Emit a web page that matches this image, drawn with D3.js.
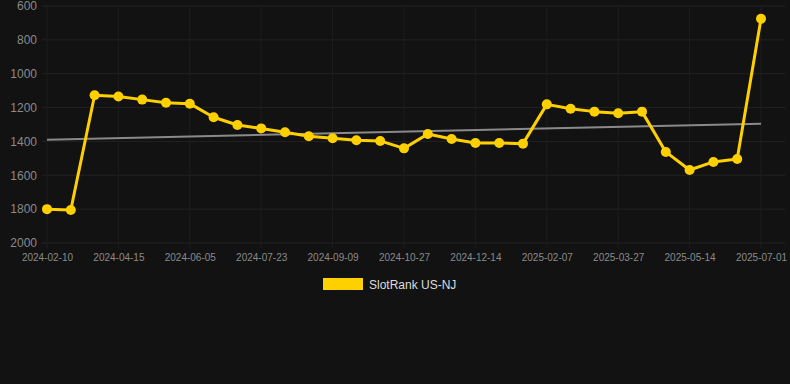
<!DOCTYPE html>
<html><head><meta charset="utf-8">
<script src="https://cdn.jsdelivr.net/npm/d3@7"></script>
<style>
html,body{margin:0;padding:0;background:#121212;}
svg{display:block;font-family:"Liberation Sans",Arial,Helvetica,sans-serif;}
</style></head>
<body>
<svg id="chart" width="790" height="384"></svg>
<script>
const dates = ["2024-02-10","2024-03-02","2024-03-23","2024-04-15","2024-05-02","2024-05-19","2024-06-05","2024-06-21","2024-07-07","2024-07-23","2024-08-08","2024-08-24","2024-09-09","2024-09-25","2024-10-11","2024-10-27","2024-11-12","2024-11-28","2024-12-14","2024-12-31","2025-01-19","2025-02-07","2025-02-23","2025-03-11","2025-03-27","2025-04-12","2025-04-28","2025-05-14","2025-05-30","2025-06-15","2025-07-01"];
const ranks = [1800,1805,1127,1135,1153,1171,1177,1257,1303,1323,1346,1369,1381,1393,1397,1441,1356,1386,1409,1409,1413,1181,1207,1224,1234,1224,1462,1569,1521,1504,675];
const trend = [1390,1295];
const yTicks = [600,800,1000,1200,1400,1600,1800,2000];
const xTickLabels = ["2024-02-10","2024-04-15","2024-06-05","2024-07-23","2024-09-09","2024-10-27","2024-12-14","2025-02-07","2025-03-27","2025-05-14","2025-07-01"];
const seriesName = "SlotRank US-NJ";

(function(){
const svg = d3.select("#chart");
const pl = 42, pr = 785, pt = 6, pb = 243;
const x = d3.scalePoint().domain(dates).range([47, 761]);
const y = d3.scaleLinear().domain([600, 2000]).range([pt, pb]);
const gold = "#ffd000";

// grid
const grid = svg.append("g");
grid.selectAll("line.h").data(yTicks).enter().append("line")
  .attr("x1", pl).attr("x2", pr)
  .attr("y1", d => y(d)).attr("y2", d => y(d))
  .attr("stroke", "#222").attr("stroke-width", 1);
grid.selectAll("line.v").data(xTickLabels).enter().append("line")
  .attr("x1", d => x(d)).attr("x2", d => x(d))
  .attr("y1", pt).attr("y2", pb + 5)
  .attr("stroke", "#1d1d1d").attr("stroke-width", 1);

// y axis
const yAxis = d3.axisLeft(y).tickValues(yTicks).tickFormat(d3.format("d")).tickSize(0).tickPadding(0);
const gy = svg.append("g").attr("transform", "translate(37,0)").call(yAxis);
gy.select(".domain").remove();
gy.selectAll("text").attr("fill", "#8a8a8a").style("font-size", "12px")
  .attr("font-family", "Liberation Sans, Arial, sans-serif");

// x axis
const xAxis = d3.axisBottom(x).tickValues(xTickLabels).tickSize(0).tickPadding(0);
const gx = svg.append("g").attr("transform", `translate(0,${pb + 11})`).call(xAxis);
gx.select(".domain").remove();
gx.selectAll("text").attr("fill", "#8a8a8a").style("font-size", "10px")
  .attr("font-family", "Liberation Sans, Arial, sans-serif");

// trend line
svg.append("line")
  .attr("x1", x(dates[0])).attr("x2", x(dates[dates.length - 1]))
  .attr("y1", y(trend[0])).attr("y2", y(trend[1]))
  .attr("stroke", "#8a8a8a").attr("stroke-width", 2);

// series line
const line = d3.line().x((d, i) => x(dates[i])).y(d => y(d));
svg.append("path").datum(ranks)
  .attr("d", line).attr("fill", "none")
  .attr("stroke", gold).attr("stroke-width", 3).attr("stroke-linejoin", "round");
svg.append("g").selectAll("circle").data(ranks).enter().append("circle")
  .attr("cx", (d, i) => x(dates[i])).attr("cy", d => y(d))
  .attr("r", 5).attr("fill", gold);

// legend
const lg = svg.append("g");
lg.append("rect").attr("x", 323).attr("y", 278).attr("width", 40).attr("height", 12).attr("fill", gold);
lg.append("text").attr("x", 369).attr("y", 288.5).text(seriesName)
  .attr("fill", "#dddddd").style("font-size", "12px");
})();
</script>
</body></html>
